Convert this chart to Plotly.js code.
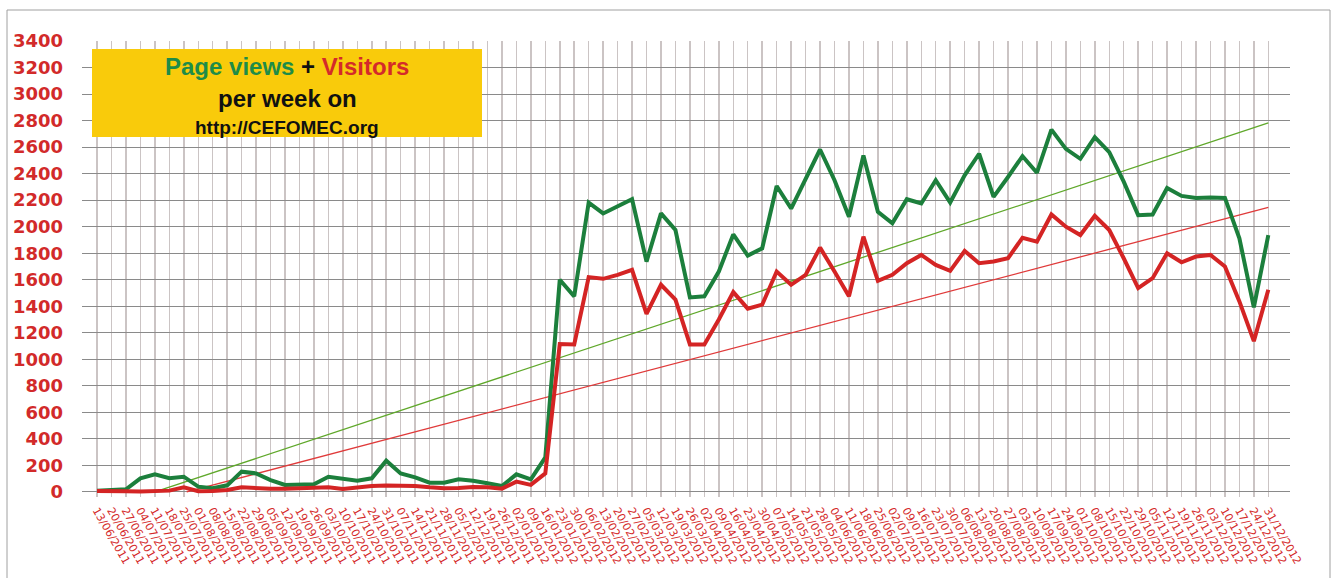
<!DOCTYPE html>
<html>
<head>
<meta charset="utf-8">
<script src="https://cdn.plot.ly/plotly-3.0.1.min.js"></script>
<style>
html,body{margin:0;padding:0;background:#fff;}
#chart{width:1338px;height:578px;}
</style>
</head>
<body>
<div id="chart"></div>
<script>
// Weekly dates (categories / tick labels)
const weeks = [
 "13/06/2011","20/06/2011","27/06/2011","04/07/2011","11/07/2011","18/07/2011","25/07/2011","01/08/2011",
 "08/08/2011","15/08/2011","22/08/2011","29/08/2011","05/09/2011","12/09/2011","19/09/2011","26/09/2011",
 "03/10/2011","10/10/2011","17/10/2011","24/10/2011","31/10/2011","07/11/2011","14/11/2011","21/11/2011",
 "28/11/2011","05/12/2011","12/12/2011","19/12/2011","26/12/2011",
 "02/01/2012","09/01/2012","16/01/2012","23/01/2012","30/01/2012","06/02/2012","13/02/2012","20/02/2012",
 "27/02/2012","05/03/2012","12/03/2012","19/03/2012","26/03/2012","02/04/2012","09/04/2012","16/04/2012",
 "23/04/2012","30/04/2012","07/05/2012","14/05/2012","21/05/2012","28/05/2012","04/06/2012","11/06/2012",
 "18/06/2012","25/06/2012","02/07/2012","09/07/2012","16/07/2012","23/07/2012","30/07/2012","06/08/2012",
 "13/08/2012","20/08/2012","27/08/2012","03/09/2012","10/09/2012","17/09/2012","24/09/2012","01/10/2012",
 "08/10/2012","15/10/2012","22/10/2012","29/10/2012","05/11/2012","12/11/2012","19/11/2012","26/11/2012",
 "03/12/2012","10/12/2012","17/12/2012","24/12/2012","31/12/2012"
];

// Page views per week
const pageViews = [
 10,15,20,103,133,103,115,40,28,50,153,140,90,53,53,58,115,103,85,103,236,140,110,70,70,95,85,65,45,133,95,260,
 1600,1475,2182,2100,2150,2207,1737,2100,1975,1467,1475,1662,1942,1782,1837,2307,2137,2362,2582,2350,2075,2537,
 2112,2025,2207,2175,2350,2182,2387,2550,2225,2375,2532,2407,2732,2587,2512,2675,2562,2340,2087,2092,2292,2232,
 2217,2220,2217,1912,1392,1937
];

// Visitors per week
const visitors = [
 8,10,5,3,8,10,35,5,8,15,35,28,25,25,28,28,35,23,35,45,48,48,45,35,28,30,38,35,25,78,53,140,
 1115,1112,1620,1607,1637,1675,1342,1562,1450,1112,1112,1300,1507,1382,1412,1662,1562,1637,1842,1662,1475,1925,
 1592,1637,1725,1787,1712,1667,1817,1725,1737,1762,1917,1887,2092,2000,1937,2082,1975,1762,1537,1612,1800,1732,
 1775,1787,1700,1437,1137,1525
];

// Linear trendlines (start/end: week position, value)
const pageViewsTrendWeek = [4.0, 81];
const pageViewsTrendValue = [0, 2782];
const visitorsTrendWeek = [6.2, 81];
const visitorsTrendValue = [0, 2145];

const yTicks = [0,200,400,600,800,1000,1200,1400,1600,1800,2000,2200,2400,2600,2800,3000,3200,3400];

const weekPos = weeks.map((w,i)=>i);

const traces = [
  {x: pageViewsTrendWeek, y: pageViewsTrendValue, type:'scatter', mode:'lines', line:{color:'#5fa82a', width:1.3}, hoverinfo:'skip'},
  {x: visitorsTrendWeek, y: visitorsTrendValue, type:'scatter', mode:'lines', line:{color:'#e03a3a', width:1.3}, hoverinfo:'skip'},
  {x: weekPos, y: pageViews, type:'scatter', mode:'lines', name:'Page views', line:{color:'#1c7f3c', width:4}},
  {x: weekPos, y: visitors, type:'scatter', mode:'lines', name:'Visitors', line:{color:'#d42424', width:4}}
];

const plotL = 82, plotR = 1290, plotT = 41, plotB = 497;
const W = plotR - plotL, H = plotB - plotT;
const px = v => (v - plotL)/W;
const py = v => (plotB - v)/H;

const layout = {
  width:1338, height:578,
  margin:{l:plotL, r:1338-plotR, t:plotT, b:578-plotB, pad:0},
  paper_bgcolor:'#ffffff', plot_bgcolor:'#ffffff',
  showlegend:false,
  xaxis:{
    type:'linear',
    range:[-1.04, 82.5],
    tickmode:'array',
    tickvals:weekPos,
    ticktext:weeks,
    tickangle:60,
    ticks:'',
    ticklabelstandoff:4,
    tickfont:{family:'DejaVu Sans', size:11, color:'#d42a2a'},
    showgrid:true, gridcolor:'#cbc4c4', gridwidth:1.5,
    showline:false, zeroline:false, fixedrange:true
  },
  yaxis:{
    range:[-38, 3400],
    tickmode:'array',
    tickvals:yTicks,
    ticktext:yTicks.map(String),
    ticks:'',
    ticklabelstandoff:18,
    tickfont:{family:'DejaVu Sans', size:18, color:'#d22a2a', weight:'bold'},
    showgrid:true, gridcolor:'#8a8a8a', gridwidth:1,
    zeroline:true, zerolinecolor:'#8a8a8a', zerolinewidth:1,
    showline:false, fixedrange:true
  },
  shapes:[
    {type:'rect', xref:'paper', yref:'paper', x0:px(7), x1:px(1330), y0:py(600), y1:py(10),
     line:{color:'#a0a0a0', width:1}, fillcolor:'rgba(0,0,0,0)', layer:'above'},
    {type:'rect', xref:'paper', yref:'paper', x0:px(92), x1:px(482), y0:py(137), y1:py(49),
     line:{width:0}, fillcolor:'#f9cb0b', layer:'above'}
  ],
  annotations:[
    {xref:'paper', yref:'paper', x:px(287), y:py(67), xanchor:'center', yanchor:'middle', showarrow:false,
     text:'<span style="color:#1e8c48">Page views</span> + <span style="color:#d42a2a">Visitors</span>',
     font:{family:'Liberation Sans', size:24, color:'#111111', weight:'bold'}},
    {xref:'paper', yref:'paper', x:px(287), y:py(99), xanchor:'center', yanchor:'middle', showarrow:false,
     text:'per week on',
     font:{family:'Liberation Sans', size:24, color:'#111111', weight:'bold'}},
    {xref:'paper', yref:'paper', x:px(287), y:py(127), xanchor:'center', yanchor:'middle', showarrow:false,
     text:'http://CEFOMEC.org',
     font:{family:'Liberation Sans', size:19, color:'#111111', weight:'bold'}}
  ]
};

Plotly.newPlot('chart', traces, layout, {displayModeBar:false, staticPlot:true});
</script>
</body>
</html>
